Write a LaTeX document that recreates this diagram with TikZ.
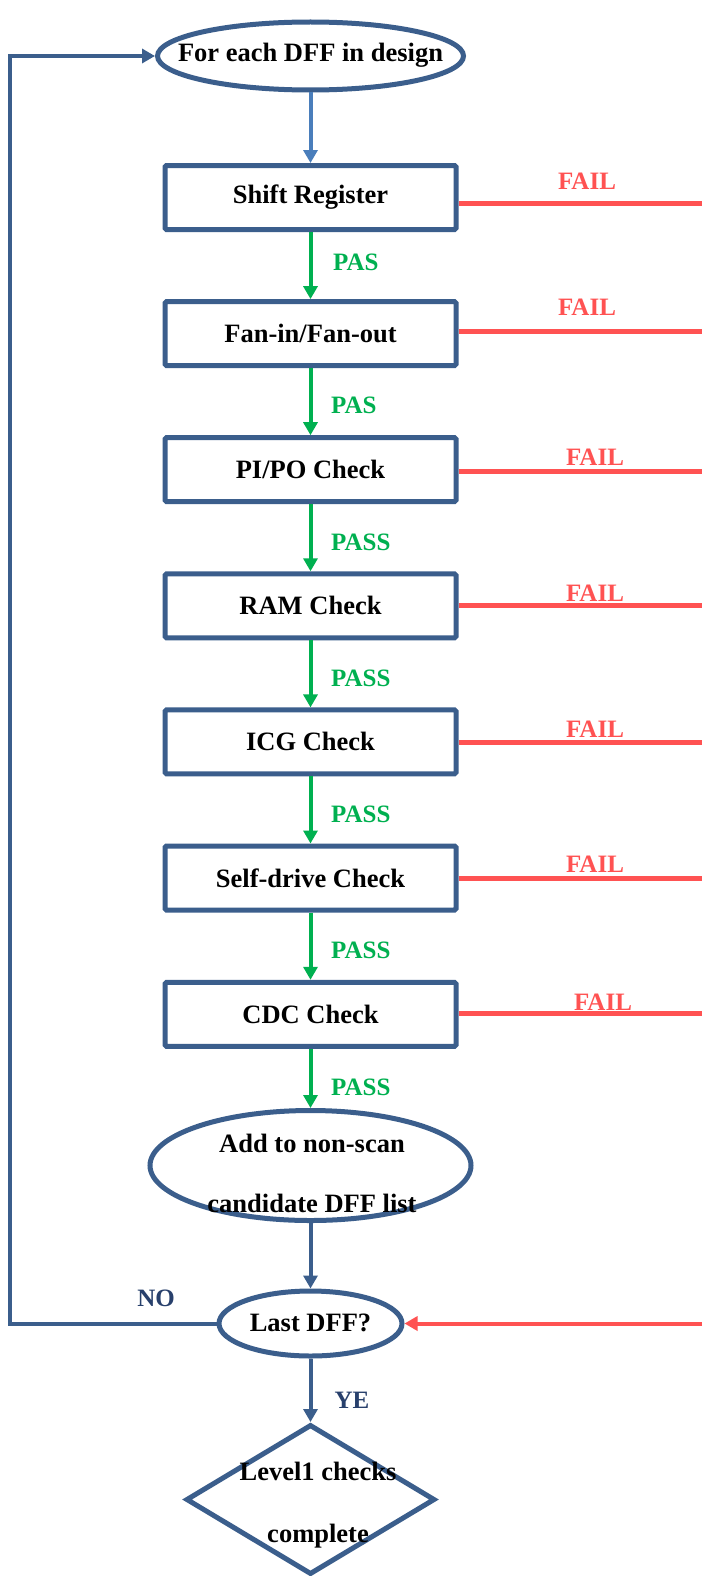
\documentclass[tikz,border=0pt]{standalone}
\usepackage{fontspec}
\setmainfont{Liberation Serif}
\usetikzlibrary{shapes.geometric,arrows.meta,calc}
\definecolor{boxblue}{RGB}{59,94,140}
\definecolor{lightblue}{RGB}{74,126,187}
\definecolor{passgreen}{RGB}{0,176,80}
\definecolor{failred}{RGB}{255,82,82}
\definecolor{labblue}{RGB}{40,64,108}
\begin{document}
\begin{tikzpicture}[x=1pt,y=-1pt,
  font={\fontsize{26.5}{30}\selectfont\bfseries},
  stepbox/.style={draw=boxblue, line width=5pt, rounded corners=1.5pt, minimum width=291pt, minimum height=64pt, inner sep=0pt},
  oval/.style={draw=boxblue, ellipse, line width=5pt, inner sep=0pt},
  dia/.style={draw=boxblue, diamond, line width=5pt, inner sep=0pt, minimum width=249pt, minimum height=150pt},
  txt/.style={inner sep=0pt, align=center},
  passarrow/.style={draw=passgreen, line width=4pt, -{Triangle[width=14pt,length=13pt]}},
  bluearrow/.style={draw=boxblue, line width=4pt, -{Triangle[width=14pt,length=13pt]}},
  toparrow/.style={draw=lightblue, line width=4pt, -{Triangle[width=14pt,length=13pt]}},
  failline/.style={draw=failred, line width=5pt},
  failarrow/.style={draw=failred, line width=4pt, -{Triangle[width=14pt,length=13pt]}},
  passlab/.style={text=passgreen, anchor=west, inner sep=0pt, font={\fontsize{25}{30}\selectfont\bfseries}},
  faillab/.style={text=failred, inner sep=0pt, font={\fontsize{25}{30}\selectfont\bfseries}},
  declab/.style={text=labblue, inner sep=0pt, font={\fontsize{25}{30}\selectfont\bfseries}}
]
\useasboundingbox (0,0) rectangle (702,1576);
\fill[white] (0,0) rectangle (702,1576);

% start ellipse
\node[oval, minimum width=306pt, minimum height=68pt] (start) at (310.5,56) {};
\node[txt] (starttxt) at (310.5,55) {For each DFF in design};

% check boxes
\node[stepbox] (b1) at (310.5,197.5) {Shift Register};
\node[stepbox] (b2) at (310.5,333.6) {Fan-in/Fan-out};
\node[stepbox] (b3) at (310.5,469.7) {PI/PO Check};
\node[stepbox] (b4) at (310.5,605.8) {RAM Check};
\node[stepbox] (b5) at (310.5,741.9) {ICG Check};
\node[stepbox] (b6) at (310.5,878) {Self-drive Check};
\node[stepbox] (b7) at (310.5,1014.3) {CDC Check};

% add ellipse
\node[oval, minimum width=321pt, minimum height=110pt] (add) at (310.5,1165.5) {};
\node[txt, font={\fontsize{26.5}{60}\selectfont\bfseries}] (addtxt) at (312,1173) {Add to non-scan\\candidate DFF list};

% last DFF
\node[oval, minimum width=183pt, minimum height=65pt] (last) at (310.5,1323.5) {};
\node[txt] (lasttxt) at (310.5,1323) {Last DFF?};

% diamond
\node[dia] (done) at (310.5,1499.5) {};
\node[txt, font={\fontsize{26.5}{62}\selectfont\bfseries}] (donetxt) at (318,1505) {Level1 checks\\complete};

% vertical flow
\draw[toparrow] (start.south) -- (b1.north);
\draw[passarrow] (b1.south) -- (b2.north);
\draw[passarrow] (b2.south) -- (b3.north);
\draw[passarrow] (b3.south) -- (b4.north);
\draw[passarrow] (b4.south) -- (b5.north);
\draw[passarrow] (b5.south) -- (b6.north);
\draw[passarrow] (b6.south) -- (b7.north);
\draw[passarrow] (b7.south) -- (add.north);
\draw[bluearrow] (add.south) -- (last.north);
\draw[bluearrow] (last.south) -- (done.north);

% loop back
\coordinate (loopc) at (10,1323.5);
\draw[bluearrow] (last.west) -- (loopc) |- (start.west);

% fail lines
\coordinate (r1) at (702,203);
\coordinate (r2) at (702,331);
\coordinate (r3) at (702,471);
\coordinate (r4) at (702,605);
\coordinate (r5) at (702,742);
\coordinate (r6) at (702,878);
\coordinate (r7) at (702,1013);
\coordinate (r8) at (702,1323.5);
\draw[failline] (b1.east |- r1) -- (r1);
\draw[failline] (b2.east |- r2) -- (r2);
\draw[failline] (b3.east |- r3) -- (r3);
\draw[failline] (b4.east |- r4) -- (r4);
\draw[failline] (b5.east |- r5) -- (r5);
\draw[failline] (b6.east |- r6) -- (r6);
\draw[failline] (b7.east |- r7) -- (r7);
\draw[failarrow] (r8) -- (last.east);

% FAIL labels
\node[faillab] (f1) at (587,181) {FAIL};
\node[faillab] (f2) at (587,307) {FAIL};
\node[faillab] (f3) at (595,457) {FAIL};
\node[faillab] (f4) at (595,593) {FAIL};
\node[faillab] (f5) at (595,729) {FAIL};
\node[faillab] (f6) at (595,864) {FAIL};
\node[faillab] (f7) at (603,1002) {FAIL};

% PASS labels
\node[passlab] (p1) at (333,262) {PAS};
\node[passlab] (p2) at (331,405) {PAS};
\node[passlab] (p3) at (331,542) {PASS};
\node[passlab] (p4) at (331,678) {PASS};
\node[passlab] (p5) at (331,814) {PASS};
\node[passlab] (p6) at (331,950) {PASS};
\node[passlab] (p7) at (331,1087) {PASS};

% decision labels
\node[declab] (no) at (156,1298) {NO};
\node[declab] (ye) at (352,1400) {YE};
\end{tikzpicture}
\end{document}
